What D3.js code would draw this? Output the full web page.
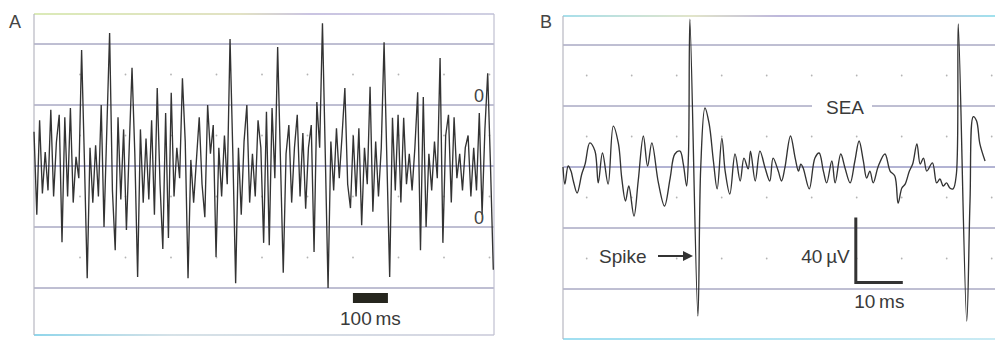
<!DOCTYPE html>
<html>
<head>
<meta charset="utf-8">
<script src="https://cdn.jsdelivr.net/npm/d3@7/dist/d3.min.js"></script>
<style>
  html, body { margin: 0; padding: 0; background: #fff; }
  svg { display: block; font-family: "Liberation Sans", Arial, Helvetica, sans-serif; }
</style>
</head>
<body>
<svg id="chart" width="995" height="340"></svg>
<script>
// A: multi-unit trace, one value every 8 ms, amplitude in grid divisions
const sampleMsA = 8;
const traceA = [
  0.56, -0.8, 0.75, -0.45, 0.23, -0.4, 0.92, -0.5, 0.39, 0.84,
  -1.25, 0.8, -0.5, 0.95, -0.6, 0.15, -0.2, 1.9, 0.1, -1.84,
  0.3, -0.6, 0.34, -0.5, 1.0, -1.0, 0.6, 2.18, -0.4, -1.38,
  0.8, -0.55, 0.6, -1.05, 0.3, 1.61, 0.2, -1.82, 0.6, -0.6,
  0.45, -0.55, 0.75, -0.8, 1.28, -0.3, -1.36, 0.87, -1.18, 1.2,
  -0.5, 0.3, -0.2, 1.44, 0.4, -1.84, 0.1, -0.6, 0.1, 0.8,
  -0.3, -0.84, 1.0, 0.2, 0.67, -1.49, 0.3, -0.5, 0.5, -0.3,
  2.08, 0.2, -1.92, 0.3, -0.8, 0.4, 1.0, -0.6, 0.2, -0.5,
  0.75, 0.3, -1.26, 0.89, -1.3, 0.95, -0.2, 1.95, 0.1, -1.75,
  0.2, 0.67, -0.6, 0.3, 0.84, -0.5, 0.54, -0.7, 0.3, 0.67,
  -1.41, 1.05, 0.3, 2.34, 0.2, -2.0, 0.4, -0.4, 0.62, -0.2,
  0.5, 1.28, -0.3, -0.69, 0.5, -0.5, 0.62, -0.97, 0.3, -0.3,
  1.3, -0.75, 0.4, -0.5, 0.3, 2.03, 0.1, -1.82, 0.79, -0.4,
  0.84, -0.6, 0.79, -0.3, 0.2, -0.4, 0.3, 1.21, -1.38, 1.13,
  -1.0, 0.2, -0.4, 0.4, -0.2, 1.77, -1.26, 0.5, 0.84, -0.6,
  0.8, -0.2, 0.2, -0.4, 0.3, 0.5, -0.5, 0.3, -0.4, 0.87,
  -0.8, 0.6, 1.52, 0.0, -1.7
];

// B: spike-evoked activity, [time ms, µV]
const traceB = [
  [0, 0], [0.4, -10.5], [1.1, 0.6], [1.7, -2.5], [2.2, -8.6], [3.0, -16], [4.0, -4.3],
  [4.7, 1.8], [5.7, 14.8], [6.8, 9.8], [7.5, -9.8], [8.4, 8.6], [9.6, -10.5], [10.7, 25.2],
  [11.8, 14.2], [12.5, -6.8], [13.3, -20.9], [14.0, -11.7], [15.1, -30.2], [16.0, -8.6],
  [17.1, 19.1], [18.0, 0.6], [18.9, 14.8], [20.3, -9.8], [21.6, -24], [22.8, -6.8],
  [23.8, 8], [24.9, 9.8], [25.6, 1.8], [26.3, -11.7], [26.7, 8], [27.0, 91],
  [28.7, -91.7], [29.3, -0.6], [30.2, 36.3], [31.1, 26.5], [32.0, 3.7], [32.8, -13.5],
  [33.8, 17.8], [34.5, -2.5], [35.5, -16.6], [36.6, 8], [37.7, -8.6], [38.5, 5.5],
  [39.4, -1.2], [39.9, 9.8], [40.9, -8.6], [41.9, 9.8], [43.0, -0.6], [44.0, -8.6],
  [44.7, 5.5], [45.8, -2.5], [46.5, -8.6], [47.2, -0.6], [48.4, 19.1], [49.4, 5.5],
  [50.1, -2.5], [50.6, 1.8], [51.1, -0.6], [52.4, -13.5], [53.6, 5.5], [54.5, 8.6],
  [55.4, -2.5], [56.1, -9.8], [57.2, 3.7], [57.9, -9.8], [59.1, 8], [60.0, -0.6],
  [61.1, -9.8], [62.1, 3.7], [63.0, 16], [63.9, 3.7], [64.6, -6.8], [65.3, -2.5],
  [66.0, -9.8], [67.1, 0.6], [68.5, 8], [69.6, -2.5], [70.6, -5.5], [71.3, -22.2],
  [72.1, -12.9], [72.8, -10.5], [73.7, -2.5], [74.4, 1.8], [75.3, 14.2], [76.0, 1.8],
  [76.7, 5.5], [77.4, -2.5], [78.6, 2.5], [79.5, -9.8], [80.2, -7.4], [80.9, -11.7],
  [81.6, -9.8], [82.3, -12.9], [83.0, -13.5], [83.7, -4.3], [84.1, 88], [85.9, -94.8],
  [86.6, -20.9], [87.3, 31], [88.0, 28.3], [88.7, 14.2], [89.8, 3.7]
];

const gridDivs = [-2, -1, 0, 1, 2];
const dotDivs = [-1.5, -0.5, 0.5, 1.5];
const barMsA = 100;
const barMsB = 10;
const barUvB = 40;
const zeroDivs = [1, -1];

const svg = d3.select('#chart');
const defs = svg.append('defs');

function grad(id, x1, x2, stops) {
  const g = defs.append('linearGradient').attr('id', id)
    .attr('gradientUnits', 'userSpaceOnUse')
    .attr('x1', x1).attr('x2', x2).attr('y1', 0).attr('y2', 0);
  stops.forEach(function(s) {
    g.append('stop').attr('offset', s[0]).attr('stop-color', s[1]);
  });
}
grad('topA', 34, 494, [[0, '#cfe3a0'], [0.45, '#d8d8b0'], [0.6, '#b8b0d8'], [1, '#c0c0d8']]);
grad('botA', 34, 494, [[0, '#6cc8e4'], [0.3, '#c8d8e0'], [1, '#c8c8d8']]);
grad('topB', 563, 995, [[0, '#8ad4e4'], [0.3, '#d8dcb8'], [0.5, '#a8a0d0'], [0.85, '#a8b8d8'], [1, '#80d8e8']]);
grad('botB', 563, 995, [[0, '#80d4ec'], [1, '#b8e4f0']]);

const lineCol = '#7e7ea6';
const traceCol = '#333';
const textCol = '#3a3a3a';

// ---------- panel A ----------
const xA = d3.scaleLinear().domain([0, 1314]).range([34, 494]);
const yA = d3.scaleLinear().domain([-1, 1]).range([227, 105]);
const gA = svg.append('g');

gA.selectAll('.grid').data(gridDivs).enter().append('line')
  .attr('x1', 34).attr('x2', 494)
  .attr('y1', function(d) { return yA(d); }).attr('y2', function(d) { return yA(d); })
  .attr('stroke', function(d) { return d === 0 ? '#6668a8' : lineCol; })
  .attr('stroke-width', 1);

const dotXA = d3.range(80, 492, 45.5);
dotDivs.forEach(function(dv) {
  gA.selectAll(null).data(dotXA).enter().append('circle')
    .attr('cx', function(d) { return d; }).attr('cy', yA(dv))
    .attr('r', 0.9).attr('fill', '#b4b4b4');
});

gA.append('line').attr('x1', 34).attr('x2', 494).attr('y1', 14).attr('y2', 14)
  .attr('stroke', 'url(#topA)').attr('stroke-width', 1.5);
gA.append('line').attr('x1', 34).attr('x2', 494).attr('y1', 335).attr('y2', 335)
  .attr('stroke', 'url(#botA)').attr('stroke-width', 1.5);
gA.append('line').attr('x1', 34).attr('x2', 34).attr('y1', 14).attr('y2', 335)
  .attr('stroke', '#b8b8c2').attr('stroke-width', 1.2);
gA.append('line').attr('x1', 494).attr('x2', 494).attr('y1', 14).attr('y2', 335)
  .attr('stroke', '#c0c0d0').attr('stroke-width', 1.2);

const lineA = d3.line()
  .x(function(d, i) { return xA(i * sampleMsA); })
  .y(function(d) { return yA(d); });
gA.append('path').datum(traceA).attr('d', lineA)
  .attr('fill', 'none').attr('stroke', traceCol).attr('stroke-width', 1.35);

gA.selectAll('.zero').data(zeroDivs).enter().append('text')
  .attr('x', 479).attr('y', function(d) { return yA(d) - 3; })
  .attr('text-anchor', 'middle').attr('font-size', 18).attr('fill', '#444')
  .text('0');

const barStartA = 911;
gA.append('rect').attr('x', xA(barStartA)).attr('y', 293)
  .attr('width', xA(barStartA + barMsA) - xA(barStartA)).attr('height', 10)
  .attr('fill', '#26261e');
gA.append('text').attr('x', xA(barStartA + barMsA / 2)).attr('y', 325)
  .attr('text-anchor', 'middle').attr('font-size', 19).attr('fill', textCol)
  .text('100\u2009ms');

svg.append('text').attr('x', 9).attr('y', 28).attr('font-size', 18)
  .attr('fill', '#444').text('A');

// ---------- panel B ----------
const xB = d3.scaleLinear().domain([0, 92]).range([563, 995.4]);
const yB = d3.scaleLinear().domain([-40, 40]).range([232, 102]);
const yGridB = d3.scaleLinear().domain([-1, 1]).range([228, 106]);
const gB = svg.append('g');

gB.selectAll('.grid').data(gridDivs).enter().append('line')
  .attr('x1', 563).attr('x2', 995)
  .attr('y1', function(d) { return yGridB(d); }).attr('y2', function(d) { return yGridB(d); })
  .attr('stroke', function(d) { return d === 0 ? '#6668a8' : lineCol; })
  .attr('stroke-width', 1);

// gap in the line behind the SEA label
gB.append('rect').attr('x', 812).attr('y', yGridB(1) - 3).attr('width', 60).attr('height', 6)
  .attr('fill', '#fff');

const dotXB = d3.range(586.7, 995, 45);
dotDivs.forEach(function(dv) {
  gB.selectAll(null).data(dotXB).enter().append('circle')
    .attr('cx', function(d) { return d; }).attr('cy', yGridB(dv))
    .attr('r', 0.9).attr('fill', '#b4b4b4');
});

gB.append('line').attr('x1', 563).attr('x2', 995).attr('y1', 16).attr('y2', 16)
  .attr('stroke', 'url(#topB)').attr('stroke-width', 1.5);
gB.append('line').attr('x1', 563).attr('x2', 995).attr('y1', 339).attr('y2', 339)
  .attr('stroke', 'url(#botB)').attr('stroke-width', 1.5);
gB.append('line').attr('x1', 563).attr('x2', 563).attr('y1', 16).attr('y2', 339)
  .attr('stroke', '#b8b8c2').attr('stroke-width', 1.2);

const lineB = d3.line()
  .curve(d3.curveCatmullRom.alpha(0.5))
  .x(function(d) { return xB(d[0]); })
  .y(function(d) { return yB(d[1]); });
gB.append('path').datum(traceB).attr('d', lineB)
  .attr('fill', 'none').attr('stroke', traceCol).attr('stroke-width', 1.35);

gB.append('text').attr('x', 845).attr('y', 114).attr('text-anchor', 'middle')
  .attr('font-size', 19).attr('fill', textCol).text('SEA');

gB.append('text').attr('x', 599).attr('y', 263)
  .attr('font-size', 19).attr('fill', textCol).text('Spike');
gB.append('line').attr('x1', 658).attr('x2', 684).attr('y1', 256).attr('y2', 256)
  .attr('stroke', '#333').attr('stroke-width', 2);
gB.append('path').attr('d', 'M683,251 L693,256 L683,261 Z').attr('fill', '#333');

// scale bar: 40 µV by 10 ms
const barT0 = 62.3;
const barV0 = -71;
gB.append('path')
  .attr('d', 'M' + xB(barT0) + ',' + yB(barV0 + barUvB) +
             'L' + xB(barT0) + ',' + yB(barV0) +
             'L' + xB(barT0 + barMsB) + ',' + yB(barV0))
  .attr('fill', 'none').attr('stroke', '#333').attr('stroke-width', 3);
gB.append('text').attr('x', xB(barT0) - 6).attr('y', 263).attr('text-anchor', 'end')
  .attr('font-size', 19).attr('fill', textCol).text('40\u2009\u00b5V');
gB.append('text').attr('x', xB(barT0 + barMsB / 2)).attr('y', 308).attr('text-anchor', 'middle')
  .attr('font-size', 19).attr('fill', textCol).text('10\u2009ms');

svg.append('text').attr('x', 540).attr('y', 28).attr('font-size', 18)
  .attr('fill', '#444').text('B');
</script>
</body>
</html>
